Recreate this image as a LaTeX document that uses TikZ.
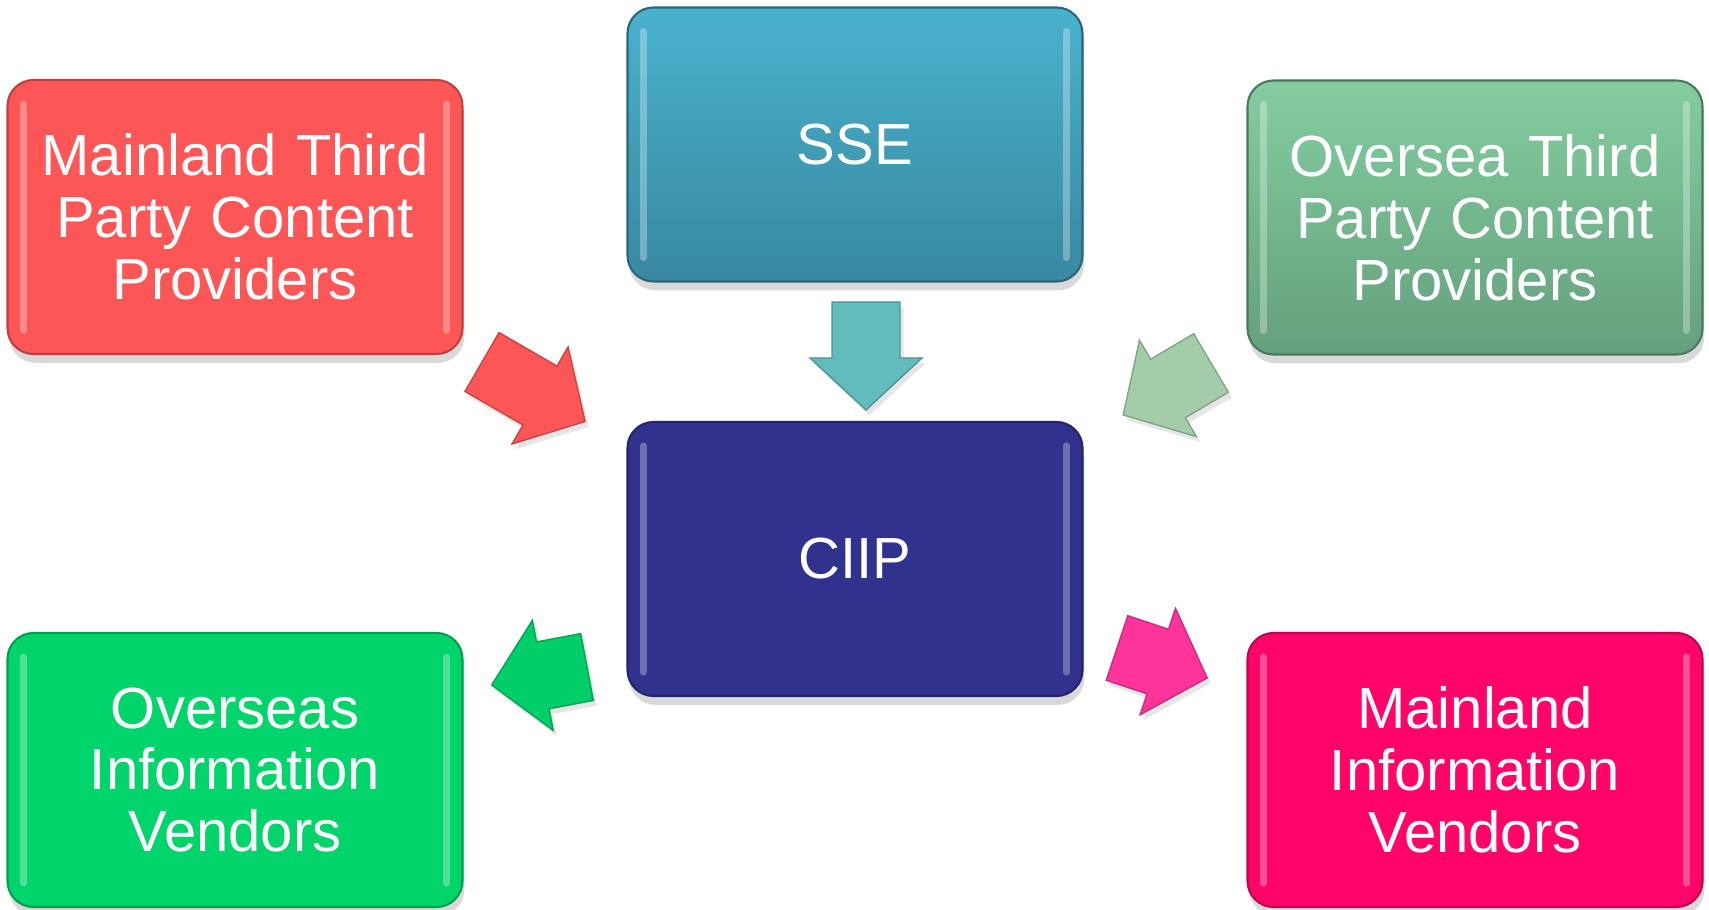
\documentclass[tikz,border=0pt]{standalone}
\usepackage{fontspec}
\setmainfont{Liberation Sans}
\usepackage{xcolor}
\usepackage{tikz}
\usetikzlibrary{shadows}

\definecolor{mtcpred}{RGB}{253,86,86}
\definecolor{ssetop}{RGB}{74,178,206}
\definecolor{ssebot}{RGB}{56,136,160}
\definecolor{otcptop}{RGB}{132,205,160}
\definecolor{otcpbot}{RGB}{100,160,124}
\definecolor{ciipblue}{RGB}{48,50,142}
\definecolor{oivgreen}{RGB}{0,212,106}
\definecolor{mivpink}{RGB}{255,5,105}
\definecolor{tealarrow}{RGB}{98,188,188}
\definecolor{sagearrow}{RGB}{163,205,168}
\definecolor{greenarrow}{RGB}{0,206,104}
\definecolor{pinkarrow}{RGB}{255,52,155}

\tikzset{
	box/.style={rounded corners=0.26cm, minimum width=4.55cm, minimum height=2.74cm,
		text width=4.3cm, align=center, text=white, line width=0.6pt,
		font=\fontsize{16.5}{17.6}\selectfont,
		drop shadow={shadow xshift=0.5pt, shadow yshift=-2.5pt, opacity=0.3}},
	shine/.style={white, opacity=0.3, line width=2pt, line cap=round}
}

% block arrow: colour, tail point, angle, length
\newcommand{\bigarrow}[4]{%
	\begin{scope}[shift={#2}, rotate=#3]
		\filldraw[fill=#1, draw=#1!80!black, line width=0.4pt,
			drop shadow={shadow xshift=1pt, shadow yshift=-1.5pt, opacity=0.2}]
			(0,0.34) -- ({#4-0.52},0.34) -- ({#4-0.52},0.56) -- (#4,0)
			-- ({#4-0.52},-0.56) -- ({#4-0.52},-0.34) -- (0,-0.34) -- cycle;
	\end{scope}}

\begin{document}
\begin{tikzpicture}
	\useasboundingbox (0,0) rectangle (17.09,9.09);

	\node[box, fill=mtcpred, draw=mtcpred!75!black] (mtcp) at (2.35,6.92) {Mainland Third Party Content Providers};
	\node[box, top color=ssetop, bottom color=ssebot, draw=ssebot!75!black] (sse) at (8.55,7.645) {SSE};
	\node[box, top color=otcptop, bottom color=otcpbot, draw=otcpbot!75!black] (otcp) at (14.75,6.915) {Oversea Third Party Content Providers};
	\node[box, fill=ciipblue, draw=ciipblue!75!black] (ciip) at (8.55,3.50) {CIIP};
	\node[box, fill=oivgreen, draw=oivgreen!75!black] (oiv) at (2.35,1.39) {Overseas Information Vendors};
	\node[box, fill=mivpink, draw=mivpink!75!black] (miv) at (14.75,1.39) {Mainland Information Vendors};

	% glossy side strips
	\foreach \n in {mtcp,sse,otcp,ciip,oiv,miv} {
		\draw[shine] ([shift={(0.17,0.25)}]\n.south west) -- ([shift={(0.17,-0.25)}]\n.north west);
		\draw[shine] ([shift={(-0.17,0.25)}]\n.south east) -- ([shift={(-0.17,-0.25)}]\n.north east);
	}

	\bigarrow{mtcpred}{(4.82,5.47)}{-30}{1.19}
	\bigarrow{tealarrow}{(8.66,6.07)}{-90}{1.08}
	\bigarrow{sagearrow}{(12.11,5.46)}{210.6}{1.02}
	\bigarrow{greenarrow}{(5.87,2.42)}{190.7}{0.97}
	\bigarrow{pinkarrow}{(11.17,2.61)}{-18.4}{0.95}
\end{tikzpicture}
\end{document}
